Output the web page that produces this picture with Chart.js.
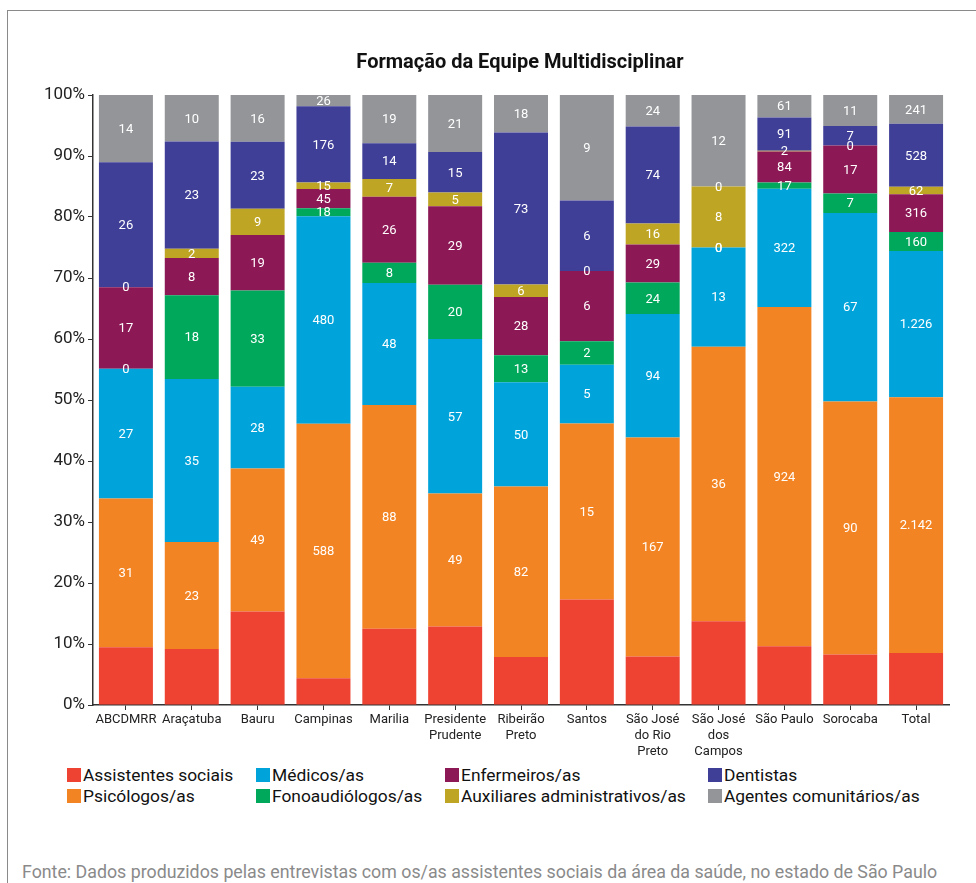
<!DOCTYPE html>
<html>
<head>
<meta charset="utf-8">
<script src="https://cdn.jsdelivr.net/npm/chart.js@4.4.1/dist/chart.umd.min.js"></script>
<style>
  html, body { margin: 0; padding: 0; background: #fff; }
  body { width: 976px; height: 883px; position: relative; overflow: hidden; font-family: Roboto, sans-serif; }
  #frame { position: absolute; left: 7px; top: 10px; width: 1200px; height: 1000px; border-top: 1.5px solid #8a8a8a; border-left: 1.5px solid #8a8a8a; }
  #wrap { position: absolute; left: 0; top: 0; width: 976px; height: 760px; }
  #title { position: absolute; left: 220px; width: 600px; top: 49px; text-align: center; font-size: 20px; font-weight: bold; color: #111; line-height: 24px; white-space: nowrap; }
  #legend { position: absolute; left: 0; top: 765px; width: 976px; height: 44px; }
  .li { position: absolute; display: flex; align-items: center; font-size: 17.4px; color: #111; white-space: nowrap; line-height: 20px; }
  .sw { width: 14px; height: 14px; margin-right: 2px; }
  #foot { position: absolute; left: 22px; top: 861px; font-size: 17.8px; color: #8a8a8a; white-space: nowrap; }
</style>
</head>
<body>
<div id="frame"></div>
<div id="wrap"><canvas id="c" width="976" height="760"></canvas></div>
<div id="title">Formação da Equipe Multidisciplinar</div>
<div id="legend"></div>
<div id="foot">Fonte: Dados produzidos pelas entrevistas com os/as assistentes sociais da área da saúde, no estado de São Paulo</div>
<script>
const categories = ['ABCDMRR', 'Araçatuba', 'Bauru', 'Campinas', 'Marilia', ['Presidente', 'Prudente'], ['Ribeirão', 'Preto'], 'Santos', ['São José', 'do Rio', 'Preto'], ['São José', 'dos', 'Campos'], 'São Paulo', 'Sorocaba', 'Total'];
const assistentes = [12, 12, 32, 62, 30, 29, 23, 9, 37, 11, 160, 18, 435];
const psicologos  = [31, 23, 49, 588, 88, 49, 82, 15, 167, 36, 924, 90, 2142];
const medicos     = [27, 35, 28, 480, 48, 57, 50, 5, 94, 13, 322, 67, 1226];
const fono        = [0, 18, 33, 18, 8, 20, 13, 2, 24, 0, 17, 7, 160];
const enfermeiros = [17, 8, 19, 45, 26, 29, 28, 6, 29, 0, 84, 17, 316];
const auxiliares  = [0, 2, 9, 15, 7, 5, 6, 0, 16, 8, 2, 0, 62];
const dentistas   = [26, 23, 23, 176, 14, 15, 73, 6, 74, 0, 91, 7, 528];
const agentes     = [14, 10, 16, 26, 19, 21, 18, 9, 24, 12, 61, 11, 241];
const yTicks = ['0%', '10%', '20%', '30%', '40%', '50%', '60%', '70%', '80%', '90%', '100%'];

const series = [
  { label: 'Assistentes sociais', data: assistentes, color: '#EE4232', showLabels: false },
  { label: 'Psicólogos/as', data: psicologos, color: '#F38423', showLabels: true },
  { label: 'Médicos/as', data: medicos, color: '#00A4DA', showLabels: true },
  { label: 'Fonoaudiólogos/as', data: fono, color: '#00A85B', showLabels: true },
  { label: 'Enfermeiros/as', data: enfermeiros, color: '#8C1855', showLabels: true },
  { label: 'Auxiliares administrativos/as', data: auxiliares, color: '#BFA524', showLabels: true },
  { label: 'Dentistas', data: dentistas, color: '#403F97', showLabels: true },
  { label: 'Agentes comunitários/as', data: agentes, color: '#939598', showLabels: true }
];

const totals = categories.map((_, i) => series.reduce((s, d) => s + d.data[i], 0));

const datasets = series.map(s => ({
  label: s.label,
  data: s.data.map((v, i) => v / totals[i] * 100),
  raw: s.data,
  showLabels: s.showLabels,
  backgroundColor: s.color,
  borderWidth: 0,
  barPercentage: 0.82,
  categoryPercentage: 1.0
}));

function fmt(n) { return String(n).replace(/\B(?=(\d{3})+(?!\d))/g, '.'); }

const labelPlugin = {
  id: 'segLabels',
  afterDatasetsDraw(chart) {
    const ctx = chart.ctx;
    ctx.save();
    ctx.font = '13px Roboto';
    ctx.fillStyle = '#ffffff';
    ctx.textAlign = 'center';
    ctx.textBaseline = 'middle';
    chart.data.datasets.forEach((ds, di) => {
      if (!ds.showLabels) return;
      const meta = chart.getDatasetMeta(di);
      meta.data.forEach((el, i) => {
        const p = el.getProps(['x', 'y', 'base'], true);
        const cy = (p.y + p.base) / 2;
        ctx.fillText(fmt(ds.raw[i]), p.x, cy + 1);
      });
    });
    ctx.restore();
  }
};

new Chart(document.getElementById('c'), {
  type: 'bar',
  data: { labels: categories, datasets },
  plugins: [labelPlugin],
  options: {
    responsive: false,
    animation: false,
    layout: { padding: { left: 0, right: 27, top: 95, bottom: 0 } },
    plugins: {
      legend: { display: false },
      tooltip: { enabled: false },
      title: { display: false }
    },
    scales: {
      x: {
        stacked: true,
        grid: { display: true, drawOnChartArea: false, drawTicks: true, tickLength: 5, color: '#333', offset: false },
        border: { display: true, color: '#333', width: 1.5 },
        ticks: { color: '#222', font: { family: 'Roboto', size: 13, lineHeight: 1.23 }, padding: 2, maxRotation: 0, autoSkip: false },
        afterFit(scale) { scale.height = 55; }
      },
      y: {
        stacked: true,
        min: 0, max: 100,
        grid: { display: true, drawOnChartArea: false, drawTicks: true, tickLength: 5, color: '#333' },
        border: { display: true, color: '#333', width: 1.5 },
        ticks: {
          stepSize: 10,
          color: '#222',
          font: { family: 'Roboto', size: 17 },
          padding: 3,
          callback: (v) => yTicks[Math.round(v / 10)]
        },
        afterFit(scale) { scale.width = 93; }
      }
    }
  }
});

const legendPos = [
  [67, 0], [67, 21],
  [256, 0], [256, 21],
  [445, 0], [445, 21],
  [708, 0], [708, 21]
];
const lg = document.getElementById('legend');
series.forEach((s, k) => {
  const d = document.createElement('div');
  d.className = 'li';
  d.style.left = legendPos[k][0] + 'px';
  d.style.top = legendPos[k][1] + 'px';
  d.innerHTML = '<span class="sw" style="background:' + s.color + '"></span><span>' + s.label + '</span>';
  lg.appendChild(d);
});
</script>
</body>
</html>
